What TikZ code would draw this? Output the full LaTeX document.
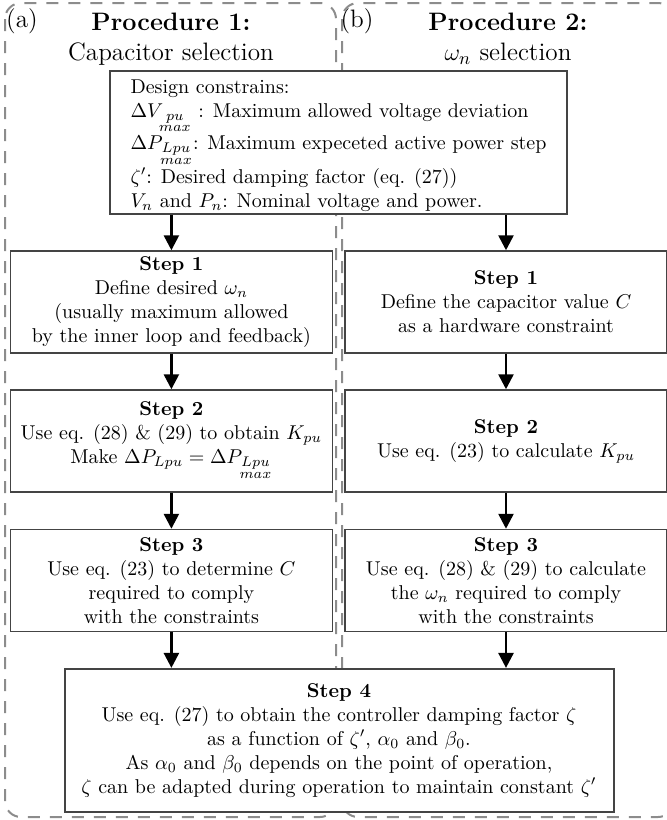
\documentclass[tikz,border=0pt]{standalone}
\usepackage{amsmath}
\usetikzlibrary{arrows.meta}
\definecolor{framegray}{HTML}{8C8C8C}
\definecolor{boxgray}{HTML}{444444}
\newcommand{\mxs}[1]{\underset{\scriptstyle max}{#1}}
\begin{document}
\begin{tikzpicture}[x=0.5pt,y=-0.5pt,
  frame/.style={draw=framegray, line width=1pt, dash pattern=on 6pt off 5pt, rounded corners=8pt},
  title/.style={align=center, font=\fontsize{12.6}{15}\selectfont, inner sep=0pt},
  stepbox/.style={draw=boxgray, line width=0.75pt, fill=white, align=center, font=\normalsize,
    minimum width=161pt, minimum height=51pt, inner sep=2pt},
  bigbox/.style={draw=boxgray, line width=1pt, fill=white, font=\normalsize, inner sep=2pt},
  arr/.style={line width=1.3pt, -{Triangle[width=7.5pt,length=7.5pt]}}
]
\useasboundingbox (0,0) rectangle (666,820);
% dashed frames
\draw[frame] (5,3) rectangle (336,817);
\draw[frame] (342,3) rectangle (674,817);
% titles
\node[title] (la) at (22,21) {(a)};
\node[title] (ta) at (171,39) {\textbf{Procedure 1:}\\Capacitor selection};
\node[title] (lb) at (357,21) {(b)};
\node[title] (tb) at (508,39) {\textbf{Procedure 2:}\\$\omega_n$ selection};
% constraints box
\node[bigbox, align=left, inner ysep=0.4pt, minimum width=228.5pt, minimum height=71.5pt] (cons) at (338.5,142)
 {\rule{0pt}{10.5pt}Design constrains:\\
  $\Delta V_{\mxs{pu}}$ : Maximum allowed voltage deviation\\
  $\Delta P_{\mxs{Lpu}}$: Maximum expeceted active power step\\
  $\zeta'$: Desired damping factor (eq. (27))\\
  $V_n$ and $P_n$: Nominal voltage and power.};
% left column
\node[stepbox] (L1) at (171.4,302) {\textbf{Step 1}\\Define desired $\omega_n$\\(usually maximum allowed\\by the inner loop and feedback)};
\node[stepbox] (L2) at (171.4,441) {\textbf{Step 2}\\Use eq. (28) \& (29) to obtain $K_{pu}$\\Make $\Delta P_{Lpu} = \Delta P_{\mxs{Lpu}}$};
\node[stepbox] (L3) at (171.4,580.5) {\textbf{Step 3}\\Use eq. (23) to determine $C$\\required to comply\\with the constraints};
% right column
\node[stepbox] (R1) at (506,302) {\textbf{Step 1}\\Define the capacitor value $C$\\as a hardware constraint};
\node[stepbox] (R2) at (506,441) {\textbf{Step 2}\\Use eq. (23) to calculate $K_{pu}$};
\node[stepbox] (R3) at (506,580.5) {\textbf{Step 3}\\Use eq. (28) \& (29) to calculate\\the $\omega_n$ required to comply\\with the constraints};
% step 4
\node[bigbox, align=center, minimum width=274.5pt, minimum height=71.4pt] (S4) at (339,740.3)
 {\textbf{Step 4}\\Use eq. (27) to obtain the controller damping factor $\zeta$\\
  as a function of $\zeta'$, $\alpha_0$ and $\beta_0$.\\
  As $\alpha_0$ and $\beta_0$ depends on the point of operation,\\
  $\zeta$ can be adapted during operation to maintain constant $\zeta'$};
% arrows
\draw[arr] (L1.north |- cons.south) -- (L1.north);
\draw[arr] (R1.north |- cons.south) -- (R1.north);
\draw[arr] (L1) -- (L2);
\draw[arr] (L2) -- (L3);
\draw[arr] (R1) -- (R2);
\draw[arr] (R2) -- (R3);
\draw[arr] (L3.south) -- (L3.south |- S4.north);
\draw[arr] (R3.south) -- (R3.south |- S4.north);
\end{tikzpicture}
\end{document}
